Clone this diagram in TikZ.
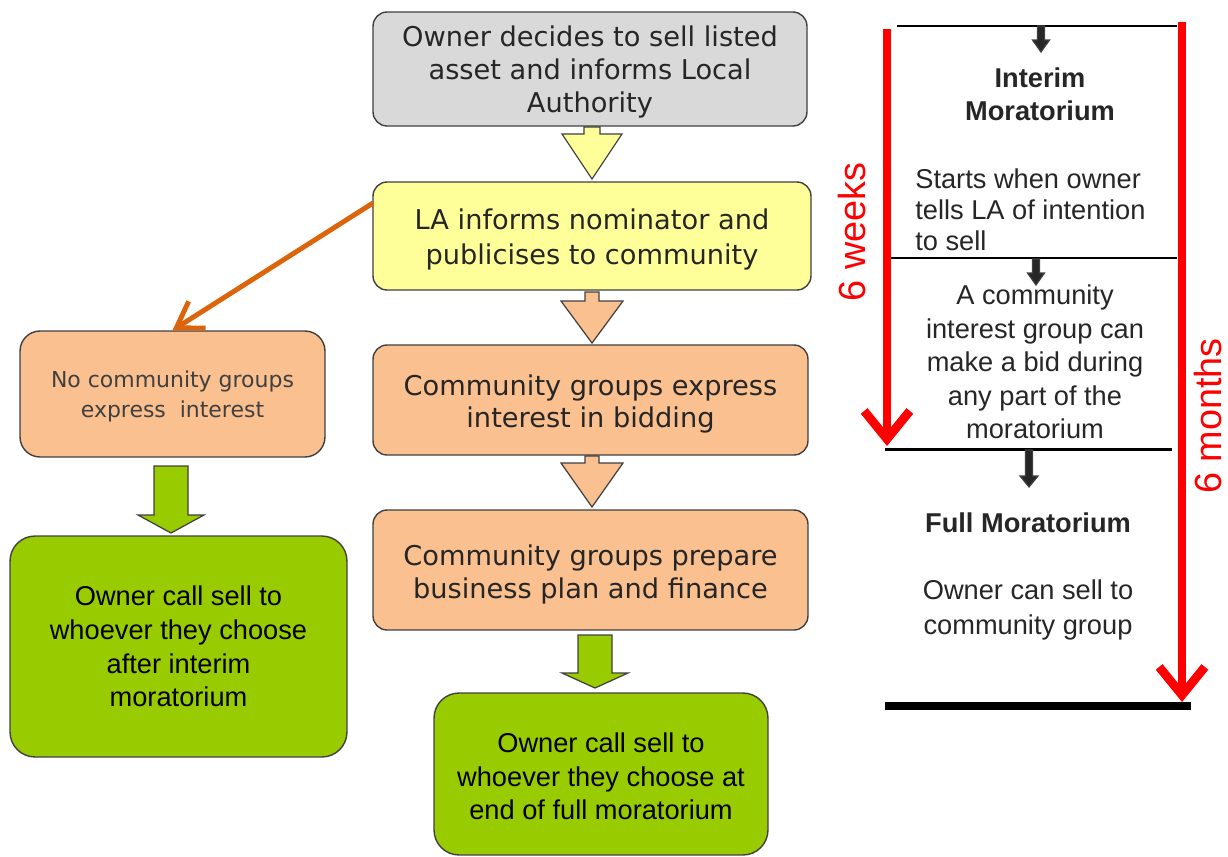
\documentclass[tikz,border=0pt]{standalone}
\usepackage{fontspec}
\setmainfont{DejaVu Sans}
\newfontfamily\verd{DejaVu Sans}
\newfontfamily\arialf{Liberation Sans}
\usetikzlibrary{arrows.meta,calc}
\definecolor{boxgray}{HTML}{D9D9D9}
\definecolor{boxyellow}{HTML}{FFFF99}
\definecolor{boxpeach}{HTML}{FAC090}
\definecolor{boxgreen}{HTML}{99CC00}
\definecolor{edgegray}{HTML}{404040}
\definecolor{txtgray}{HTML}{262626}
\definecolor{orangeline}{HTML}{DC640A}
\definecolor{redline}{HTML}{FF0000}
\newcommand{\blockdown}[7]{% cx, ytop, shaft half, shaft end, head half, tip, fill
  \fill[#7,draw=edgegray,line width=0.7pt,line join=miter]
    (#1-#3,#2) -- (#1+#3,#2) -- (#1+#3,#4) -- (#1+#5,#4) -- (#1,#6)
    -- (#1-#5,#4) -- (#1-#3,#4) -- cycle;}
\newcommand{\lowerstrut}{\rule{0pt}{15.3pt}}
\begin{document}
\begin{tikzpicture}[x=0.02cm,y=-0.02cm,
  flowbox/.style={draw=edgegray,line width=0.8pt,rounded corners=0.28cm,
     align=center,inner sep=0pt,text=txtgray},
  greenbox/.style={draw=edgegray,line width=0.8pt,rounded corners=0.5cm,
     fill=boxgreen,align=center,inner sep=0pt,text=black},
  sidetext/.style={font=\arialf\fontsize{15.5}{19}\selectfont,text=txtgray,inner sep=0pt},
  redarrow/.style={draw=redline,line width=5pt,-{Straight Barb[length=16pt,width=26pt,line width=5pt]}},
  blackrule/.style={draw=black,line width=1.7pt},
  weektext/.style={font=\arialf\fontsize{21.5}{24}\selectfont,text=redline,rotate=90,inner sep=0pt}
]
\useasboundingbox (0,0) rectangle (1228,856);
\fill[white] (0,0) rectangle (1228,856);

% ---- main column
\node[flowbox,fill=boxgray,minimum width=8.68cm,minimum height=2.28cm,
  font=\verd\fontsize{15.5}{18.7}\selectfont] (b1) at (590,69)
  {\lowerstrut Owner decides to sell listed\\asset and informs Local\\Authority};
\node[flowbox,fill=boxyellow,minimum width=8.76cm,minimum height=2.16cm,
  font=\verd\fontsize{15.5}{19.8}\selectfont] (b2) at (592,236)
  {\lowerstrut LA informs nominator and\\publicises to community};
\node[flowbox,fill=boxpeach,minimum width=8.7cm,minimum height=2.2cm,
  font=\verd\fontsize{15.5}{18.2}\selectfont] (b3) at (590.5,400)
  {\rule{0pt}{16.5pt}Community groups express\\interest in bidding};
\node[flowbox,fill=boxpeach,minimum width=8.7cm,minimum height=2.4cm,
  font=\verd\fontsize{15.5}{18.7}\selectfont] (b4) at (590.5,570)
  {\rule{0pt}{16.5pt}Community groups prepare\\business plan and finance};
\node[greenbox,minimum width=6.68cm,minimum height=3.24cm,
  font=\arialf\fontsize{15.5}{19.1}\selectfont] (b5) at (601,774)
  {\rule{0pt}{14pt}Owner call sell to\\whoever they choose at\\end of full moratorium};

% ---- left column
\node[flowbox,fill=boxpeach,rounded corners=0.4cm,minimum width=6.1cm,minimum height=2.52cm,
  font=\verd\fontsize{12.5}{17}\selectfont,text=edgegray] (lb) at (172.5,394)
  {\rule{0pt}{12.5pt}No community groups\\express \ interest};
\node[greenbox,minimum width=6.74cm,minimum height=4.42cm,
  font=\arialf\fontsize{15.5}{19.1}\selectfont] (lg) at (178.5,646.5)
  {Owner call sell to\\whoever they choose\\after interim\\moratorium};

% ---- block arrows
\blockdown{592}{127}{8}{134}{30}{179}{boxyellow}
\blockdown{592}{292}{7}{301}{31}{343}{boxpeach}
\blockdown{592}{456}{7}{463}{31}{507}{boxpeach}
\blockdown{595}{635}{17}{673}{33}{688}{boxgreen}
\blockdown{171}{466}{17}{515}{33}{533}{boxgreen}

% ---- orange connector
\coordinate (ostart) at (373,203);
\draw[orangeline,line width=2.8pt,-{Straight Barb[length=14pt,width=18pt,line width=2.8pt]}]
  (ostart) -- (lb.north);

% ---- right timeline
\coordinate (t1a) at (897,26);  \coordinate (t1b) at (1177,26);
\coordinate (t2a) at (890,258); \coordinate (t2b) at (1177,258);
\coordinate (t3a) at (885,449); \coordinate (t3b) at (1172,449);
\coordinate (t4a) at (885,706); \coordinate (t4b) at (1191,706);
\draw[blackrule] (t1a) -- (t1b);
\draw[blackrule] (t2a) -- (t2b);
\draw[blackrule] (t3a) -- (t3b);
\draw[draw=black,line width=5.1pt] (t4a) -- (t4b);

\blockdown{1041}{26}{3.5}{40}{8.5}{52}{black!85}
\blockdown{1036}{259}{3.5}{273}{8.5}{285}{black!85}
\blockdown{1029}{450}{3.5}{476}{9}{487}{black!85}

\coordinate (rl1) at (887,29);  \coordinate (rl2) at (887,446);
\coordinate (rr1) at (1182,22); \coordinate (rr2) at (1182,702);
\draw[redarrow] (rl1) -- (rl2);
\draw[redarrow] (rr1) -- (rr2);

\node[weektext] (wk) at (852,232) {6 weeks};
\node[weektext] (mo) at (1208,416) {6 months};

\node[sidetext,font=\arialf\bfseries\fontsize{15.5}{19}\selectfont,align=center] (im) at (1040,94)
  {Interim\\Moratorium};
\node[sidetext,align=left,anchor=north west,font=\arialf\fontsize{15.5}{17.9}\selectfont] (st) at (915,168)
  {Starts when owner\\tells LA of intention\\to sell};
\node[sidetext,align=center,font=\arialf\fontsize{15.5}{19}\selectfont] (cb) at (1035,362)
  {A community\\interest group can\\make a bid during\\any part of the\\moratorium};
\node[sidetext,font=\arialf\bfseries\fontsize{15.5}{19}\selectfont] (fm) at (1028,523)
  {Full Moratorium};
\node[sidetext,align=center,font=\arialf\fontsize{15.5}{19.5}\selectfont] (oc) at (1028,610)
  {Owner can sell to\\community group};
\end{tikzpicture}
\end{document}
